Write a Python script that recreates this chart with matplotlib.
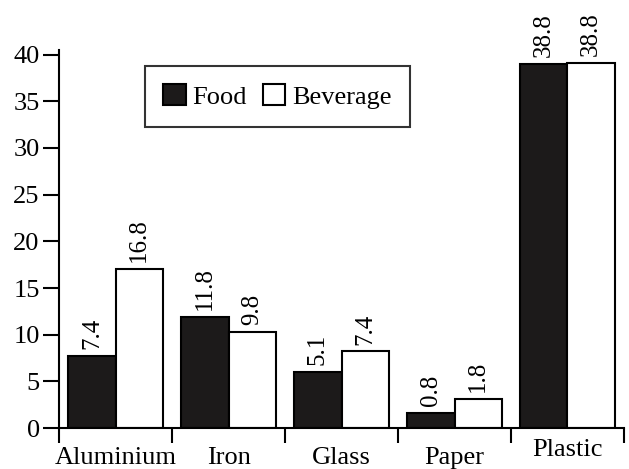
import numpy as np
import matplotlib
matplotlib.use("Agg")
import matplotlib.pyplot as plt
from matplotlib.transforms import ScaledTranslation

plt.rcParams['font.family'] = ['Liberation Serif', 'DejaVu Serif']

categories = ['Aluminium', 'Iron', 'Glass', 'Paper', 'Plastic']
food = [7.7, 11.9, 6.0, 1.6, 39.0]
beverage = [17.0, 10.3, 8.2, 3.1, 39.1]
food_labels = ['7.4', '11.8', '5.1', '0.8', '38.8']
beverage_labels = ['16.8', '9.8', '7.4', '1.8', '38.8']

fig = plt.figure(figsize=(6.29, 4.69), dpi=100)
ax = fig.add_axes([0.094, 0.0874, 0.898, 0.806])

x = np.arange(len(categories))
w = 0.42
b1 = ax.bar(x - w / 2, food, w, color='#1c1a1a', edgecolor='black', linewidth=1.5, label='Food')
b2 = ax.bar(x + w / 2, beverage, w, color='white', edgecolor='black', linewidth=1.5, label='Beverage')

for bars, labs in ((b1, food_labels), (b2, beverage_labels)):
    for r, s in zip(bars, labs):
        ax.annotate(s, (r.get_x() + r.get_width() / 2, r.get_height()),
                    xytext=(0, 5), textcoords='offset points',
                    rotation=90, ha='center', va='bottom', fontsize=18,
                    annotation_clip=False)

ax.set_xlim(-0.5, len(categories) - 0.5)
ax.set_ylim(0, 40.5)
ax.set_yticks(np.arange(0, 41, 5))
ax.tick_params(axis='y', direction='out', length=11.5, width=1.5, labelsize=19, pad=2.5)

ax.set_xticks(x)
ax.set_xticklabels(categories, fontsize=19)
ax.tick_params(axis='x', which='major', length=0, pad=14)
ax.set_xticks(np.arange(-0.5, len(categories), 1), minor=True)
ax.tick_params(axis='x', which='minor', direction='out', length=11, width=1.5)

# the last category label sits a bit higher in the original
lab = ax.get_xticklabels()[-1]
lab.set_transform(lab.get_transform() + ScaledTranslation(0, 0.08, fig.dpi_scale_trans))

for s in ('top', 'right'):
    ax.spines[s].set_visible(False)
for s in ('left', 'bottom'):
    ax.spines[s].set_linewidth(1.5)

leg = ax.legend(loc='upper left', bbox_to_anchor=(0.152, 0.958), ncol=2, fontsize=19,
                frameon=True, fancybox=False, edgecolor='black',
                handlelength=0.85, handleheight=0.85, handletextpad=0.25,
                columnspacing=0.6, borderpad=0.7, borderaxespad=0)
leg.get_frame().set_linewidth(1.5)

fig.savefig('out.png', dpi=100)
